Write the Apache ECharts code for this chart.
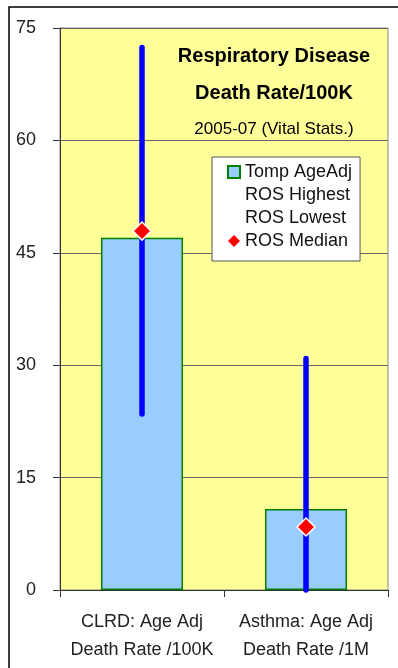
<!DOCTYPE html>
<html>
<head>
<meta charset="utf-8">
<script src="https://cdn.jsdelivr.net/npm/echarts@6/dist/echarts.min.js"></script>
<style>
  html, body { margin: 0; padding: 0; background: #fff; }
  #chart { width: 398px; height: 668px; }
</style>
</head>
<body>
<div id="chart"></div>
<script>
// Categories and values
const categories = ['CLRD: Age Adj\nDeath Rate /100K', 'Asthma: Age Adj\nDeath Rate /1M'];
const tompAgeAdj = [47.0, 10.8];
const rosHighest = [72.4, 30.9];
const rosLowest = [23.5, 0];
const rosMedian = [47.9, 8.4];
const yTicks = [0, 15, 30, 45, 60, 75];

const FONT = 'Liberation Sans, Arial, sans-serif';

// Vertical range segment drawn between two values of the same category
function rangeSegment(params, api) {
  const p1 = api.coord([api.value(0), api.value(1)]);
  const p2 = api.coord([api.value(0), api.value(2)]);
  return {
    type: 'line',
    shape: { x1: p1[0], y1: p1[1], x2: p2[0], y2: p2[1] },
    style: { stroke: '#0000ff', lineWidth: 5.5, lineCap: 'round' }
  };
}

const highData = categories.map((c, i) => [i, rosMedian[i], rosHighest[i]]);
const lowData = categories.map((c, i) => [i, rosLowest[i], rosMedian[i]]);

const chart = echarts.init(document.getElementById('chart'));
chart.setOption({
  animation: false,
  backgroundColor: '#ffffff',
  textStyle: { fontFamily: FONT },
  graphic: [{
    type: 'rect',
    shape: { x: 9, y: 7, width: 420, height: 700 },
    style: { fill: 'none', stroke: '#000', lineWidth: 1.5 },
    silent: true
  }],
  title: {
    text: 'Respiratory Disease\nDeath Rate/100K',
    subtext: '2005-07 (Vital Stats.)',
    left: 274,
    textAlign: 'center',
    top: 38,
    padding: 0,
    itemGap: 7,
    textStyle: { fontFamily: FONT, fontSize: 20, fontWeight: 'bold', color: '#000', lineHeight: 37 },
    subtextStyle: { fontFamily: FONT, fontSize: 17, color: '#000', lineHeight: 20 }
  },
  legend: {
    orient: 'vertical',
    left: 212,
    top: 157,
    backgroundColor: '#ffffff',
    borderColor: '#555',
    borderWidth: 1,
    padding: [6, 8, 11, 15],
    itemGap: 5,
    itemWidth: 12,
    itemHeight: 12,
    textStyle: { fontFamily: FONT, fontSize: 18, color: '#111', lineHeight: 18 },
    data: [
      { name: 'Tomp AgeAdj', icon: 'rect', itemStyle: { color: '#99ccff', borderColor: '#008000', borderWidth: 2 } },
      { name: 'ROS Highest', icon: 'rect', itemStyle: { color: 'transparent', borderWidth: 0 } },
      { name: 'ROS Lowest', icon: 'rect', itemStyle: { color: 'transparent', borderWidth: 0 } },
      { name: 'ROS Median', icon: 'diamond', itemStyle: { color: '#ff0000', borderWidth: 0 } }
    ]
  },
  grid: {
    left: 60, right: 10, top: 28, bottom: 78,
    show: true,
    backgroundColor: '#ffff99',
    borderColor: '#888',
    borderWidth: 1
  },
  xAxis: {
    type: 'category',
    data: categories,
    axisLine: { show: true, lineStyle: { color: '#333', width: 1 } },
    axisTick: { show: true, length: 7, lineStyle: { color: '#333' } },
    axisLabel: { interval: 0, fontFamily: FONT, fontSize: 18, color: '#222', lineHeight: 28, margin: 18 }
  },
  yAxis: {
    type: 'value',
    min: yTicks[0],
    max: yTicks[yTicks.length - 1],
    interval: 15,
    axisLine: { show: true, lineStyle: { color: '#333', width: 1 } },
    axisTick: { show: true, length: 7, lineStyle: { color: '#333' } },
    axisLabel: { fontFamily: FONT, fontSize: 18, color: '#222', margin: 24 },
    splitLine: { show: true, lineStyle: { color: '#666', width: 1 } }
  },
  series: [
    {
      name: 'Tomp AgeAdj',
      type: 'bar',
      data: tompAgeAdj,
      barWidth: '50%',
      itemStyle: { color: '#99ccff', borderColor: '#008000', borderWidth: 1.5 },
      z: 2
    },
    {
      name: 'ROS Highest',
      type: 'custom',
      renderItem: rangeSegment,
      data: highData,
      encode: { x: 0, y: [1, 2] },
      z: 3
    },
    {
      name: 'ROS Lowest',
      type: 'custom',
      renderItem: rangeSegment,
      data: lowData,
      encode: { x: 0, y: [1, 2] },
      z: 3
    },
    {
      name: 'ROS Median',
      type: 'scatter',
      data: rosMedian,
      symbol: 'diamond',
      symbolSize: 18,
      itemStyle: { color: '#ff0000', borderColor: '#ffffff', borderWidth: 1.5, opacity: 1 },
      z: 4
    }
  ]
});
</script>
</body>
</html>
